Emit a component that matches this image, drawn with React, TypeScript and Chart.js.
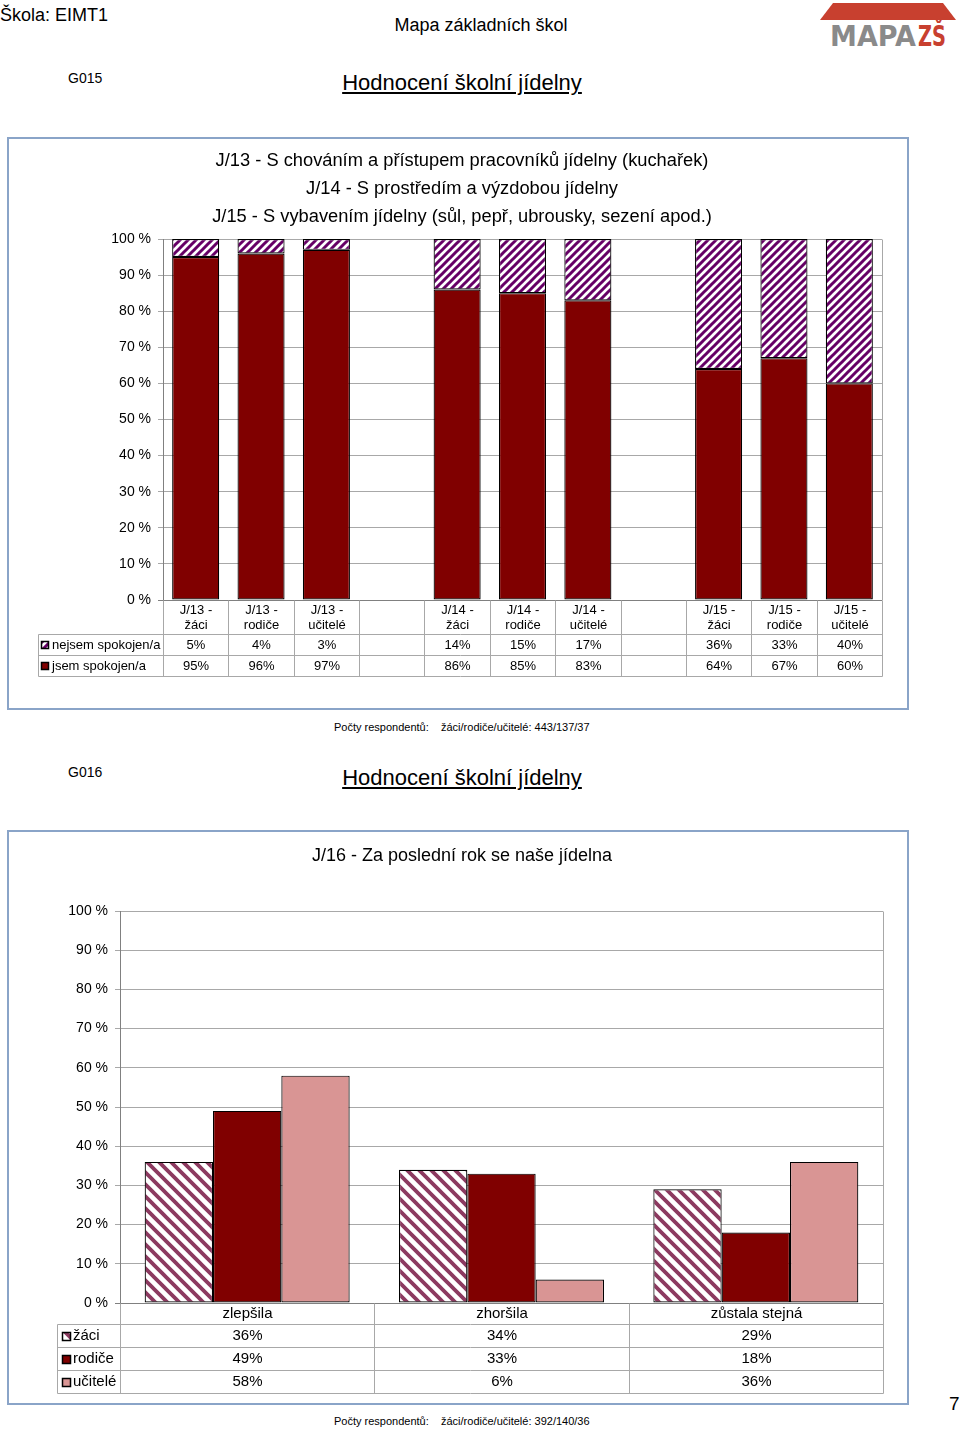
import React, { useEffect, useRef } from "react";
import { Chart, registerables } from "chart.js";

Chart.register(...registerables);

const FONT = "'Liberation Sans', Arial, Helvetica, sans-serif";

// ---------- Chart G015 data ----------
const c1TitleLines = [
  "J/13 - S chováním a přístupem pracovníků jídelny (kuchařek)",
  "J/14 - S prostředím a výzdobou jídelny",
  "J/15 - S vybavením jídelny (sůl, pepř, ubrousky, sezení apod.)",
];
const c1Categories: string[][] = [
  ["J/13 -", "žáci"], ["J/13 -", "rodiče"], ["J/13 -", "učitelé"], ["", ""],
  ["J/14 -", "žáci"], ["J/14 -", "rodiče"], ["J/14 -", "učitelé"], ["", ""],
  ["J/15 -", "žáci"], ["J/15 -", "rodiče"], ["J/15 -", "učitelé"],
];
const c1Satisfied: (number | null)[] = [95, 96, 97, null, 86, 85, 83, null, 64, 67, 60];
const c1Unsatisfied: (number | null)[] = [5, 4, 3, null, 14, 15, 17, null, 36, 33, 40];
const c1SeriesNames = ["jsem spokojen/a", "nejsem spokojen/a"];
const c1Respondents = "žáci/rodiče/učitelé: 443/137/37";

// ---------- Chart G016 data ----------
const c2Title = "J/16 - Za poslední rok se naše jídelna";
const c2Categories = ["zlepšila", "zhoršila", "zůstala stejná"];
const c2Zaci = [36, 34, 29];
const c2Rodice = [49, 33, 18];
const c2Ucitele = [58, 6, 36];
const c2SeriesNames = ["žáci", "rodiče", "učitelé"];
const c2Respondents = "žáci/rodiče/učitelé: 392/140/36";

const yTickStep = 10;

// ---------- helpers ----------
function makeHatch(
  ctx: CanvasRenderingContext2D,
  color: string,
  size: number,
  lw: number,
  forward: boolean
) {
  const c = document.createElement("canvas");
  c.width = size;
  c.height = size;
  const g = c.getContext("2d")!;
  g.fillStyle = "#ffffff";
  g.fillRect(0, 0, size, size);
  g.strokeStyle = color;
  g.lineWidth = lw;
  g.beginPath();
  if (forward) {
    g.moveTo(-size, size * 2); g.lineTo(size * 2, -size);
    g.moveTo(-size, size); g.lineTo(size, -size);
    g.moveTo(0, size * 2); g.lineTo(size * 2, 0);
  } else {
    g.moveTo(-size, -size); g.lineTo(size * 2, size * 2);
    g.moveTo(-size, 0); g.lineTo(size, size * 2);
    g.moveTo(0, -size); g.lineTo(size * 2, size);
  }
  g.stroke();
  return ctx.createPattern(c, "repeat")!;
}

function titlePlugin(id: string, lines: string[], cx: number, ys: number[], size: number) {
  return {
    id,
    afterDraw(chart: any) {
      const ctx = chart.ctx as CanvasRenderingContext2D;
      ctx.save();
      ctx.fillStyle = "#000";
      ctx.font = `${size}px ${FONT}`;
      ctx.textAlign = "center";
      ctx.textBaseline = "middle";
      lines.forEach((l, i) => ctx.fillText(l, cx, ys[i]));
      ctx.restore();
    },
  };
}

type TableOpts = {
  headerHeight: number;
  headerLineOffsets: number[];
  rowHeight: number;
  rowOrder: number[];
  legendLeft: number;
  swatchLeft: number;
  swatchSize: number;
  textLeft: number;
  fontSize: number;
  lineColor: string;
};

function tablePlugin(id: string, o: TableOpts) {
  return {
    id,
    afterDraw(chart: any) {
      const ctx = chart.ctx as CanvasRenderingContext2D;
      const a = chart.chartArea;
      const x = chart.scales.x;
      const labels = chart.data.labels as any[];
      const n = labels.length;
      const step = n > 1 ? x.getPixelForValue(1) - x.getPixelForValue(0) : a.right - a.left;
      const edges: number[] = [];
      for (let i = 0; i <= n; i++) edges.push(Math.round(x.getPixelForValue(0) - step / 2 + i * step) + 0.5);
      const top = Math.round(a.bottom) + 0.5;
      const hb = top + o.headerHeight;
      const bottom = hb + o.rowHeight * o.rowOrder.length;
      ctx.save();
      ctx.strokeStyle = o.lineColor;
      ctx.lineWidth = 1;
      ctx.beginPath();
      // plot right border
      ctx.moveTo(edges[n], Math.round(a.top) + 0.5);
      ctx.lineTo(edges[n], top);
      // verticals
      edges.forEach((e) => {
        ctx.moveTo(e, top);
        ctx.lineTo(e, bottom);
      });
      const ll = o.legendLeft + 0.5;
      ctx.moveTo(ll, hb);
      ctx.lineTo(ll, bottom);
      for (let r = 0; r <= o.rowOrder.length; r++) {
        const yy = hb + r * o.rowHeight;
        ctx.moveTo(ll, yy);
        ctx.lineTo(edges[n], yy);
      }
      ctx.stroke();

      ctx.fillStyle = "#000";
      ctx.font = `${o.fontSize}px ${FONT}`;
      ctx.textBaseline = "middle";
      ctx.textAlign = "center";
      for (let i = 0; i < n; i++) {
        const cx = (edges[i] + edges[i + 1]) / 2;
        const lab = Array.isArray(labels[i]) ? labels[i] : [labels[i]];
        lab.forEach((t: string, k: number) => ctx.fillText(t, cx, top + o.headerLineOffsets[k]));
      }
      o.rowOrder.forEach((di, r) => {
        const ds = chart.data.datasets[di];
        const cy = hb + r * o.rowHeight + o.rowHeight / 2;
        const s = o.swatchSize;
        const sy = Math.round(cy - s / 2);
        ctx.fillStyle = ds.backgroundColor;
        ctx.fillRect(o.swatchLeft, sy, s, s);
        ctx.strokeStyle = "#000";
        ctx.lineWidth = 1.5;
        ctx.strokeRect(o.swatchLeft + 0.5, sy + 0.5, s - 1, s - 1);
        ctx.fillStyle = "#000";
        ctx.textAlign = "left";
        ctx.fillText(ds.label, o.textLeft, cy);
        ctx.textAlign = "center";
        for (let i = 0; i < n; i++) {
          const v = ds.data[i];
          if (v === null || v === undefined) continue;
          ctx.fillText(`${v}%`, (edges[i] + edges[i + 1]) / 2, cy);
        }
      });
      ctx.restore();
    },
  };
}

function yScale(width: number, stacked: boolean) {
  return {
    stacked,
    min: 0,
    max: 100,
    afterFit: (s: any) => {
      s.width = width;
    },
    ticks: {
      stepSize: yTickStep,
      padding: 7,
      color: "#000",
      font: { family: FONT, size: 14 },
      callback: (v: any) => `${v} %`,
    },
    grid: {
      color: (c: any) => (c.tick && c.tick.value === 0 ? "#808080" : "#a8a8a8"),
      tickLength: 5,
      lineWidth: 1,
    },
    border: { display: true, color: "#808080", width: 1 },
  };
}

function Chart1() {
  const ref = useRef<HTMLCanvasElement>(null);
  useEffect(() => {
    const canvas = ref.current!;
    const ctx = canvas.getContext("2d")!;
    const hatch = makeHatch(ctx, "#660066", 8, 3, true);
    const chart = new Chart(canvas, {
      type: "bar",
      data: {
        labels: c1Categories as any,
        datasets: [
          {
            label: c1SeriesNames[0],
            data: c1Satisfied,
            backgroundColor: "#800000",
            borderColor: "#000",
            borderWidth: 1.2,
            borderSkipped: false,
            barPercentage: 0.72,
            categoryPercentage: 1,
          },
          {
            label: c1SeriesNames[1],
            data: c1Unsatisfied,
            backgroundColor: hatch as any,
            borderColor: "#000",
            borderWidth: 1.2,
            borderSkipped: false,
            barPercentage: 0.72,
            categoryPercentage: 1,
          },
        ],
      },
      options: {
        animation: false,
        responsive: true,
        maintainAspectRatio: false,
        layout: { padding: { left: 0, right: 25, top: 100, bottom: 108 } },
        plugins: { legend: { display: false }, tooltip: { enabled: false }, title: { display: false } },
        scales: {
          x: { display: false, stacked: true },
          y: yScale(154, true) as any,
        },
      },
      plugins: [
        titlePlugin("t1", c1TitleLines, 453, [22, 50, 78], 18.3),
        tablePlugin("tb1", {
          headerHeight: 34,
          headerLineOffsets: [10, 25],
          rowHeight: 21,
          rowOrder: [1, 0],
          legendLeft: 29,
          swatchLeft: 32,
          swatchSize: 8,
          textLeft: 43,
          fontSize: 13,
          lineColor: "#a8a8a8",
        }),
      ],
    });
    return () => chart.destroy();
  }, []);
  return (
    <div style={{ position: "absolute", left: 9, top: 139, width: 898, height: 569 }}>
      <canvas ref={ref} />
    </div>
  );
}

function Chart2() {
  const ref = useRef<HTMLCanvasElement>(null);
  useEffect(() => {
    const canvas = ref.current!;
    const ctx = canvas.getContext("2d")!;
    const hatch = makeHatch(ctx, "#8c3a60", 12, 3.8, false);
    const common = {
      borderColor: "#000",
      borderWidth: 1.2,
      borderSkipped: false,
      barPercentage: 1,
      categoryPercentage: 0.806,
    };
    const chart = new Chart(canvas, {
      type: "bar",
      data: {
        labels: c2Categories,
        datasets: [
          { label: c2SeriesNames[0], data: c2Zaci, backgroundColor: hatch as any, ...common },
          { label: c2SeriesNames[1], data: c2Rodice, backgroundColor: "#800000", ...common },
          { label: c2SeriesNames[2], data: c2Ucitele, backgroundColor: "#d99594", ...common },
        ],
      },
      options: {
        animation: false,
        responsive: true,
        maintainAspectRatio: false,
        layout: { padding: { left: 0, right: 24, top: 79, bottom: 100 } },
        plugins: { legend: { display: false }, tooltip: { enabled: false }, title: { display: false } },
        scales: {
          x: { display: false },
          y: yScale(111, false) as any,
        },
      },
      plugins: [
        titlePlugin("t2", [c2Title], 453, [24], 18),
        tablePlugin("tb2", {
          headerHeight: 21,
          headerLineOffsets: [10.5],
          rowHeight: 23,
          rowOrder: [0, 1, 2],
          legendLeft: 48,
          swatchLeft: 53,
          swatchSize: 9,
          textLeft: 64,
          fontSize: 15,
          lineColor: "#a8a8a8",
        }),
      ],
    });
    return () => chart.destroy();
  }, []);
  return (
    <div style={{ position: "absolute", left: 9, top: 832, width: 898, height: 571 }}>
      <canvas ref={ref} />
    </div>
  );
}

function T({
  x, y, size, children, align = "left", style = {},
}: {
  x: number; y: number; size: number; children: any; align?: "left" | "center"; style?: any;
}) {
  return (
    <div
      style={{
        position: "absolute",
        left: x,
        top: y,
        fontSize: size,
        lineHeight: 1,
        fontFamily: FONT,
        whiteSpace: "nowrap",
        color: "#000",
        transform: align === "center" ? "translate(-50%, -50%)" : "translate(0, -50%)",
        ...style,
      }}
    >
      {children}
    </div>
  );
}

function Logo() {
  return (
    <svg
      style={{ position: "absolute", left: 820, top: 2 }}
      width={137}
      height={46}
      viewBox="0 0 137 46"
    >
      <polygon points="13,1 123,1 136,18 0,18" fill="#c8402f" />
      <text
        x={10}
        y={44}
        fontFamily="'DejaVu Sans', sans-serif"
        fontWeight="bold"
        fontSize={28}
        fill="#8a8a8a"
        textLength={86}
        lengthAdjust="spacingAndGlyphs"
      >
        MAPA
      </text>
      <text
        x={98}
        y={44}
        fontFamily="'DejaVu Sans', sans-serif"
        fontWeight="bold"
        fontSize={28}
        fill="#c8402f"
        textLength={28}
        lengthAdjust="spacingAndGlyphs"
      >
        ZŠ
      </text>
    </svg>
  );
}

export default function App() {
  const box = {
    position: "absolute" as const,
    left: 7,
    width: 902,
    border: "2px solid #8aa4c8",
    boxSizing: "border-box" as const,
  };
  return (
    <div style={{ position: "absolute", left: 0, top: 0, width: 960, height: 1429, background: "#fff", overflow: "hidden" }}>
      <T x={0} y={15} size={18}>Škola: EIMT1</T>
      <T x={481} y={25} size={18} align="center">Mapa základních škol</T>
      <Logo />

      <T x={68} y={78} size={14}>G015</T>
      <T x={462} y={83} size={22} align="center" style={{ textDecoration: "underline" }}>
        Hodnocení školní jídelny
      </T>
      <div style={{ ...box, top: 137, height: 573 }} />
      <Chart1 />
      <T x={334} y={727} size={11}>Počty respondentů:</T>
      <T x={441} y={727} size={11}>{c1Respondents}</T>

      <T x={68} y={772} size={14}>G016</T>
      <T x={462} y={778} size={22} align="center" style={{ textDecoration: "underline" }}>
        Hodnocení školní jídelny
      </T>
      <div style={{ ...box, top: 830, height: 575 }} />
      <Chart2 />
      <T x={334} y={1421} size={11}>Počty respondentů:</T>
      <T x={441} y={1421} size={11}>{c2Respondents}</T>

      <T x={949} y={1403} size={19}>7</T>
    </div>
  );
}
